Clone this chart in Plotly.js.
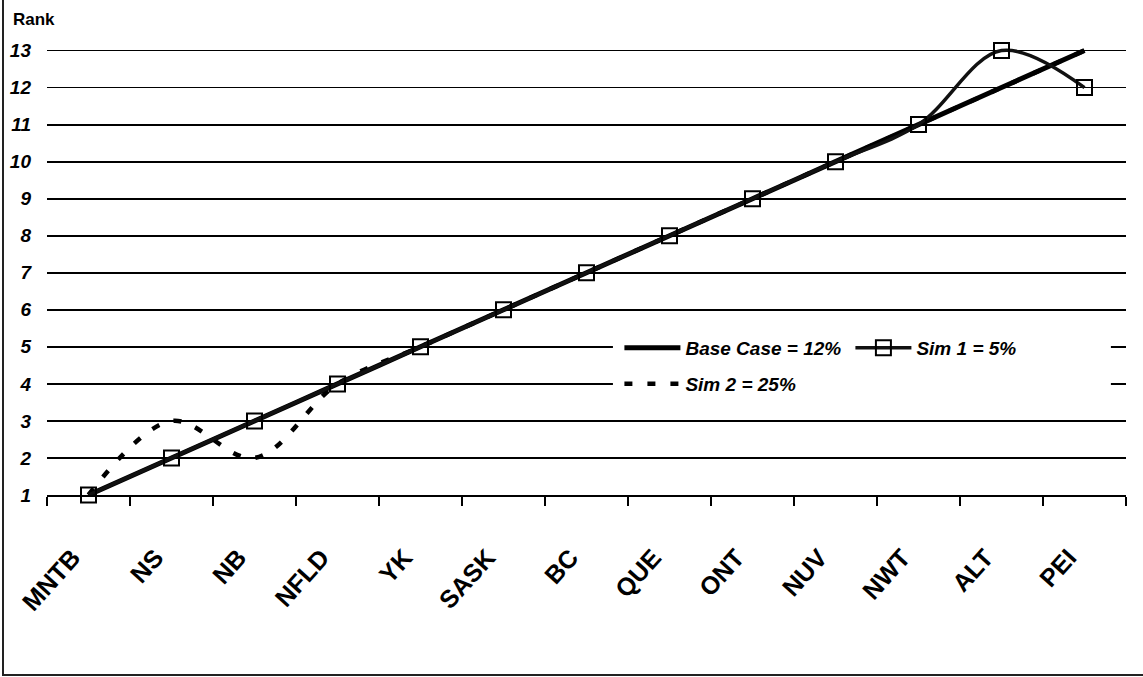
<!DOCTYPE html>
<html>
<head>
<meta charset="utf-8">
<script src="https://cdn.plot.ly/plotly-3.0.1.min.js"></script>
<style>
  html, body { margin: 0; padding: 0; background: #fff; }
  #wrap { position: relative; width: 1143px; height: 677px; }
  #chart { width: 1143px; height: 677px; }
  #frame { position: absolute; left: 2px; top: 0; width: 1141px; height: 676px;
           border-left: 2px solid #222; border-bottom: 2px solid #222; box-sizing: border-box; pointer-events: none; }
</style>
</head>
<body>
<div id="wrap"><div id="chart"></div><div id="frame"></div></div>
<script>
const provinces = ["MNTB", "NS", "NB", "NFLD", "YK", "SASK", "BC", "QUE", "ONT", "NUV", "NWT", "ALT", "PEI"];
const baseCase = [1, 2, 3, 4, 5, 6, 7, 8, 9, 10, 11, 12, 13];
const sim1 = [1, 2, 3, 4, 5, 6, 7, 8, 9, 10, 11, 13, 12];
const sim2 = [1, 3, 2, 4, 5, 6, 7, 8, 9, 10, 11, 12, 13];
const yTicks = [1, 2, 3, 4, 5, 6, 7, 8, 9, 10, 11, 12, 13];
const names = ["Base Case = 12%", "Sim 1 = 5%", "Sim 2 = 25%"];

const FONT = '"Liberation Sans", Arial, sans-serif';
const legendFont = { family: FONT, size: 19, color: '#000', weight: 'bold', style: 'italic' };

const traces = [
  {
    x: provinces, y: sim2, name: names[2], type: 'scatter', mode: 'lines', legend: 'legend2',
    line: { color: '#000', width: 4.5, shape: 'spline', dash: '8px,15px' }, cliponaxis: false
  },
  {
    x: provinces, y: baseCase, name: names[0], type: 'scatter', mode: 'lines', legend: 'legend',
    line: { color: '#000', width: 5, shape: 'spline' }, cliponaxis: false
  },
  {
    x: provinces, y: sim1, name: names[1], type: 'scatter', mode: 'lines+markers', legend: 'legend',
    line: { color: '#111', width: 3.5, shape: 'spline' },
    marker: { symbol: 'square-open', size: 15, color: '#000', line: { width: 2, color: '#000' } },
    cliponaxis: false
  }
];

const layout = {
  width: 1143, height: 677,
  margin: { l: 47, r: 17, t: 32, b: 182, pad: 0 },
  paper_bgcolor: '#fff', plot_bgcolor: '#fff',
  font: { family: FONT, color: '#000' },
  showlegend: true,
  legend: {
    orientation: 'h', x: 0.5305, xanchor: 'left', y: 0.359, yanchor: 'top',
    bgcolor: 'rgba(0,0,0,0)', borderwidth: 0, font: legendFont,
    itemwidth: 56, entrywidth: 160, entrywidthmode: 'pixels', traceorder: 'normal'
  },
  legend2: {
    orientation: 'h', x: 0.5305, xanchor: 'left', y: 0.281, yanchor: 'top',
    bgcolor: 'rgba(0,0,0,0)', borderwidth: 0, font: legendFont,
    itemwidth: 56, traceorder: 'normal'
  },
  shapes: [
    { type: 'rect', xref: 'paper', yref: 'paper', x0: 0.5245, x1: 0.986, y0: 0.2, y1: 0.355,
      fillcolor: '#fff', line: { width: 0 }, layer: 'above' }
  ],
  xaxis: {
    type: 'category', categoryorder: 'array', categoryarray: provinces,
    range: [-0.5, 12.5],
    showline: true, linecolor: '#000', linewidth: 2,
    ticks: 'outside', tickson: 'boundaries', ticklen: 9, tickwidth: 1.5, tickcolor: '#000',
    showgrid: false, zeroline: false,
    tickangle: -48,
    ticklabelstandoff: 36, ticklabelshift: -16,
    tickfont: { family: FONT, size: 25, color: '#000', weight: 'bold' }
  },
  yaxis: {
    range: [1, 13.5], tickvals: yTicks, ticktext: yTicks.map(String),
    showgrid: true, gridcolor: '#000', gridwidth: 1.8,
    showline: false, zeroline: false, ticks: '',
    ticklabelstandoff: 15,
    tickfont: { family: FONT, size: 19, color: '#000', weight: 'bold', style: 'italic' }
  },
  annotations: [
    { text: 'Rank', xref: 'paper', yref: 'paper', x: -0.033, y: 1.002, xanchor: 'left', yanchor: 'bottom',
      showarrow: false, font: { family: FONT, size: 17, color: '#000', weight: 'bold' } }
  ]
};

Plotly.newPlot('chart', traces, layout, { displayModeBar: false, staticPlot: true });
</script>
</body>
</html>
